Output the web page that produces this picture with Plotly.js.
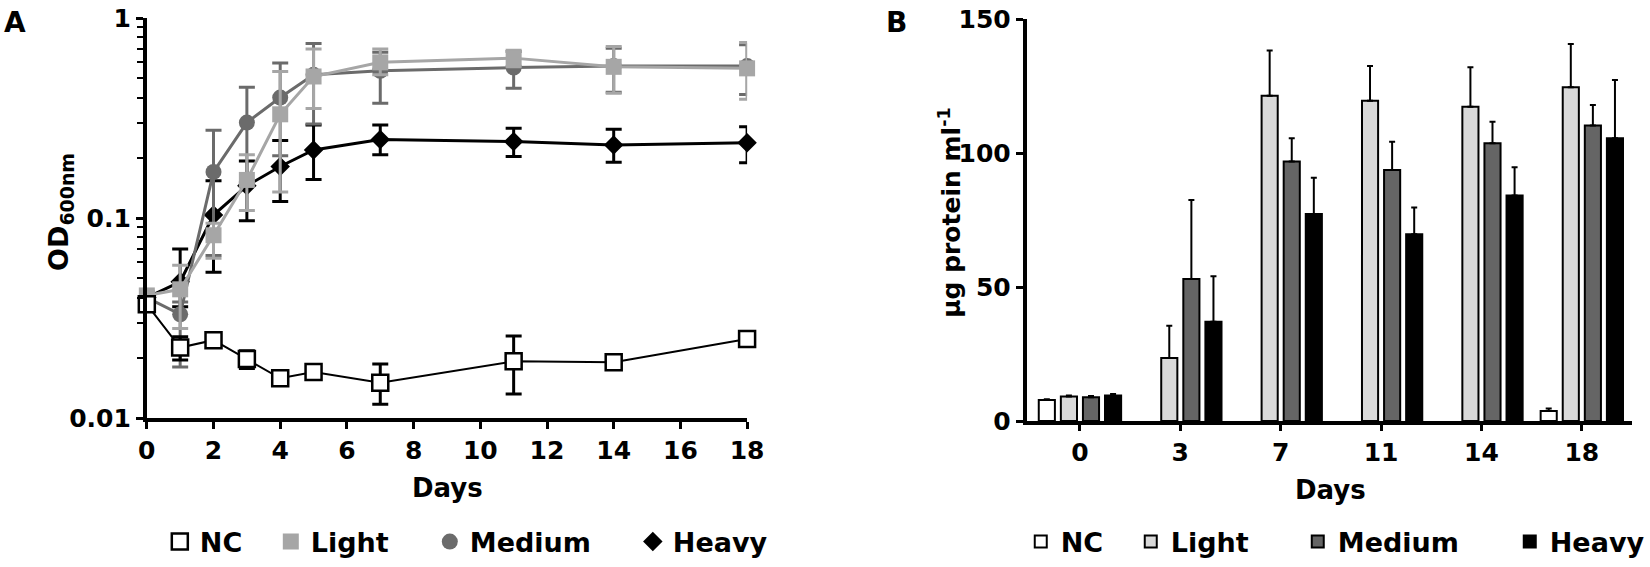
<!DOCTYPE html>
<html>
<head>
<meta charset="utf-8">
<script src="https://cdn.plot.ly/plotly-3.0.1.min.js"></script>
<style>html,body{margin:0;padding:0;background:#fff;}#chart{width:1650px;height:567px;}</style>
</head>
<body>
<div id="chart"></div>
<script>
// ---------- Panel A data (OD600nm, log scale) ----------
const days = [0, 1, 2, 3, 4, 5, 7, 11, 14, 18];
const odNC = [0.037, 0.0225, 0.0245, 0.0197, 0.0158, 0.0170, 0.0150, 0.0192, 0.0190, 0.0248];
const odNCPlus = [0.002, 0.003, 0.002, 0.002, 0.0008, 0.0008, 0.0036, 0.0065, 0.0012, 0.0015];
const odNCMinus = [0.002, 0.003, 0.002, 0.002, 0.0008, 0.0008, 0.0033, 0.006, 0.0012, 0.0015];
const odLight = [0.041, 0.044, 0.082, 0.155, 0.33, 0.51, 0.60, 0.63, 0.57, 0.56];
const odLightPlus = [0.002, 0.014, 0.012, 0.052, 0.21, 0.19, 0.10, 0.06, 0.15, 0.195];
const odLightMinus = [0.002, 0.016, 0.019, 0.046, 0.195, 0.157, 0.08, 0.06, 0.15, 0.168];
const odMedium = [0.040, 0.033, 0.17, 0.30, 0.40, 0.52, 0.545, 0.565, 0.575, 0.575];
const odMediumPlus = [0.002, 0.005, 0.105, 0.15, 0.195, 0.225, 0.13, 0.115, 0.13, 0.16];
const odMediumMinus = [0.002, 0.015, 0.105, 0.15, 0.195, 0.225, 0.17, 0.12, 0.15, 0.16];
const odHeavy = [0.040, 0.048, 0.1035, 0.145, 0.181, 0.219, 0.247, 0.241, 0.232, 0.238];
const odHeavyPlus = [0.002, 0.022, 0.05, 0.048, 0.063, 0.073, 0.045, 0.04, 0.046, 0.048];
const odHeavyMinus = [0.002, 0.012, 0.05, 0.048, 0.060, 0.063, 0.040, 0.038, 0.042, 0.049];
const odTickVals = [0.01, 0.1, 1];
const odTickText = ['0.01', '0.1', '1'];

// ---------- Panel B data (µg protein ml-1) ----------
const dayLabels = ['0', '3', '7', '11', '14', '18'];
const protNC = [7.8, null, null, null, null, 3.7];
const protNCErr = [0.3, 0, 0, 0, 0, 1.0];
const protLight = [9.1, 23.5, 121.4, 119.5, 117.3, 124.5];
const protLightErr = [0.4, 12, 16.8, 13, 14.7, 16.2];
const protMedium = [8.9, 53, 96.8, 93.7, 103.6, 110.3];
const protMediumErr = [0.4, 29.5, 8.7, 10.5, 8.1, 7.6];
const protHeavy = [9.5, 37, 77.2, 69.7, 84.1, 105.5];
const protHeavyErr = [0.6, 17, 13.6, 10, 10.6, 21.7];

// ---------- styles ----------
const FONT = 'DejaVu Sans';
const W = 1650, H = 567;
const px = v => v / W, py = v => 1 - v / H;
const cA = {NC: '#000000', Light: '#a6a6a6', Medium: '#6b6b6b', Heavy: '#000000'};
const cB = {NC: '#ffffff', Light: '#d9d9d9', Medium: '#656565', Heavy: '#000000'};
const legW_A = {NC: 66, Light: 114, Medium: 158, Heavy: 0};
const legW_B = {NC: 65, Light: 122, Medium: 167, Heavy: 0};

const seriesA = [
  {name: 'Heavy', y: odHeavy, p: odHeavyPlus, m: odHeavyMinus, sym: 'diamond', size: 15, fill: '#000', lc: '#000', lw: 3, rank: 4},
  {name: 'Medium', y: odMedium, p: odMediumPlus, m: odMediumMinus, sym: 'circle', size: 16, fill: cA.Medium, lc: cA.Medium, lw: 3, rank: 3},
  {name: 'Light', y: odLight, p: odLightPlus, m: odLightMinus, sym: 'square', size: 16, fill: cA.Light, lc: cA.Light, lw: 3, rank: 2},
  {name: 'NC', y: odNC, p: odNCPlus, m: odNCMinus, sym: 'square', size: 16, fill: '#fff', lc: '#000', lw: 2, rank: 1}
];

const traces = [];
seriesA.forEach(s => {
  traces.push({
    type: 'scatter', mode: 'lines', x: days, y: s.y, xaxis: 'x', yaxis: 'y',
    line: {color: s.lc, width: s.lw}, showlegend: false, hoverinfo: 'skip', cliponaxis: false
  });
  const t = {
    type: 'scatter', mode: 'markers', name: s.name, x: days, y: s.y, xaxis: 'x', yaxis: 'y',
    legend: 'legend', legendrank: s.rank, cliponaxis: false,
    marker: {symbol: s.sym, size: s.size, color: s.fill, line: {color: s.lc, width: s.name === 'NC' ? 2.5 : 0}},
    error_y: {type: 'data', symmetric: false, array: s.p, arrayminus: s.m, color: s.lc, thickness: 3, width: 8}
  };
  if (legW_A[s.name]) t.legendwidth = legW_A[s.name];
  traces.push(t);
});

const seriesB = [
  {name: 'NC', y: protNC, e: protNCErr},
  {name: 'Light', y: protLight, e: protLightErr},
  {name: 'Medium', y: protMedium, e: protMediumErr},
  {name: 'Heavy', y: protHeavy, e: protHeavyErr}
];
seriesB.forEach(s => {
  const t = {
    type: 'bar', name: s.name, x: dayLabels, y: s.y, xaxis: 'x2', yaxis: 'y2', legend: 'legend2',
    marker: {color: cB[s.name], line: {color: '#000', width: 2}},
    error_y: {type: 'data', symmetric: false, array: s.e, arrayminus: s.e.map(() => 0), color: '#000', thickness: 2, width: 3}
  };
  if (legW_B[s.name]) t.legendwidth = legW_B[s.name];
  traces.push(t);
});

const tickFont = {family: FONT, size: 25, color: '#000', weight: 'bold'};
const axisCommon = {showline: true, linecolor: '#000', linewidth: 4, ticks: 'outside', ticklen: 7, tickwidth: 3,
  tickcolor: '#000', showgrid: false, zeroline: false, tickfont: tickFont, fixedrange: true};
const legFont = {family: FONT, size: 27, color: '#000', weight: 'bold'};

const layout = {
  width: W, height: H, margin: {l: 0, r: 0, t: 0, b: 0}, paper_bgcolor: '#fff', plot_bgcolor: '#fff',
  barmode: 'group', bargap: 0.12, bargroupgap: 0.27,
  xaxis: Object.assign({}, axisCommon, {domain: [px(147), px(748)], range: [0, 18], tickmode: 'linear', tick0: 0, dtick: 2, anchor: 'y'}),
  yaxis: Object.assign({}, axisCommon, {domain: [py(418), py(18)], type: 'log', range: [-2, 0], tickmode: 'array', tickvals: odTickVals, ticktext: odTickText, anchor: 'x',
    minor: {dtick: 'D1', ticks: 'outside', ticklen: 6, tickwidth: 2, tickcolor: '#000', showgrid: false}}),
  xaxis2: Object.assign({}, axisCommon, {domain: [px(1028), px(1634)], type: 'category', range: [-0.53, 5.5], anchor: 'y2', ticklen: 6}),
  yaxis2: Object.assign({}, axisCommon, {domain: [py(421), py(19)], range: [0, 150], tickmode: 'linear', tick0: 0, dtick: 50, anchor: 'x2'}),
  legend: {orientation: 'h', x: px(160), xanchor: 'left', y: py(542), yanchor: 'middle', traceorder: 'normal',
    font: legFont, bgcolor: 'rgba(0,0,0,0)', itemclick: false},
  legend2: {orientation: 'h', x: px(1022), xanchor: 'left', y: py(542), yanchor: 'middle', traceorder: 'normal',
    font: legFont, bgcolor: 'rgba(0,0,0,0)', itemclick: false},
  annotations: [
    {text: 'A', xref: 'paper', yref: 'paper', x: px(2), y: py(4), xanchor: 'left', yanchor: 'top', showarrow: false,
      font: {family: FONT, size: 28, color: '#000', weight: 'bold'}},
    {text: 'B', xref: 'paper', yref: 'paper', x: px(885), y: py(4), xanchor: 'left', yanchor: 'top', showarrow: false,
      font: {family: FONT, size: 28, color: '#000', weight: 'bold'}},
    {text: 'Days', xref: 'paper', yref: 'paper', x: px(448), y: py(488), xanchor: 'center', yanchor: 'middle', showarrow: false,
      font: {family: FONT, size: 26, color: '#000', weight: 'bold'}},
    {text: 'Days', xref: 'paper', yref: 'paper', x: px(1332), y: py(490), xanchor: 'center', yanchor: 'middle', showarrow: false,
      font: {family: FONT, size: 26, color: '#000', weight: 'bold'}},
    {text: 'OD<sub>600nm</sub>', xref: 'paper', yref: 'paper', x: px(60), y: py(212), xanchor: 'center', yanchor: 'middle', showarrow: false,
      textangle: -90, font: {family: FONT, size: 27, color: '#000', weight: 'bold'}},
    {text: 'µg protein ml<sup>-1</sup>', xref: 'paper', yref: 'paper', x: px(952), y: py(213), xanchor: 'center', yanchor: 'middle', showarrow: false,
      textangle: -90, font: {family: FONT, size: 25, color: '#000', weight: 'bold'}}
  ]
};

Plotly.newPlot('chart', traces, layout, {displayModeBar: false, staticPlot: true});
</script>
</body>
</html>
